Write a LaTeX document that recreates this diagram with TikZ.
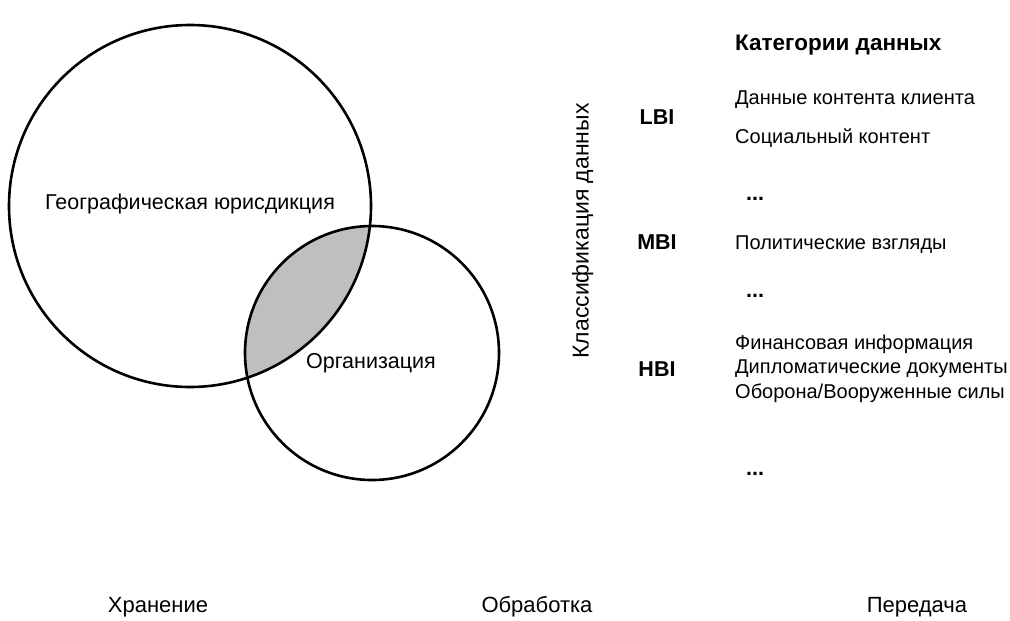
\documentclass[tikz,border=0pt]{standalone}
\usepackage{fontspec}
\setmainfont{Liberation Sans}
\usetikzlibrary{positioning}

\begin{document}
\begin{tikzpicture}[x=1pt, y=-1pt]
    \tikzset{lbl/.style= {font=\fontsize{21.5}{25}\selectfont
    , inner sep=0pt
    , text height=15.5pt
    , text depth=4.5pt
      }
    , level/.style= {lbl
    , font=\fontsize{21.5}{25}\selectfont\bfseries
      }
    , item/.style= {lbl, anchor=west
    , font=\fontsize{20}{24}\selectfont
      }
    , axis/.style= {lbl
    , font=\fontsize{22}{26}\selectfont
      }
    , ring/.style= {draw, line width=2.6pt}
    }
\useasboundingbox (0,0) rectangle (1010,621);

\coordinate (geo) at (190,206);
\coordinate (org) at (372,353);
% overlap of the two circles
\begin{scope}
 \clip (geo) circle (181pt);
 \fill[gray!50] (org) circle (127pt);
\end{scope}
\draw[ring] (geo) circle (181pt);
\draw[ring] (org) circle (127pt);

\node [lbl] (geolbl) at (190,204) {Географическая юрисдикция};
\node [lbl] (orglbl) at (371,363) {Организация};

\node [level, anchor=west, font=\fontsize{22.5}{26}\selectfont\bfseries] (title) at (735,45) {Категории данных};
\node [axis, rotate=90, font=\fontsize{23}{27}\selectfont] (classif) at (583,231) {Классификация данных};

\node [level] (lbi) at (657,119) {LBI};
\node [level] (mbi) at (657,244) {MBI};
\node [level] (hbi) at (657,371) {HBI};

\node [item] (cust) at (735,99) {Данные контента клиента};
\node [item] (social) at (735,138) {Социальный контент};
\node [level, anchor=west] (dots1) at (746,195) {...};
\node [item] (polit) at (735,244) {Политические взгляды};
\node [level, anchor=west] (dots2) at (746,292) {...};
\node [item] (diplo) at (735,368) {Дипломатические документы};
\node [item, above=24.5pt of diplo.west, anchor=west] (fin) {Финансовая информация};
\node [item, below=24.5pt of diplo.west, anchor=west] (defence) {Оборона/Вооруженные силы};
\node [level, anchor=west] (dots3) at (746,470) {...};

\node [axis] (store) at (158,607) {Хранение};
\node [axis] (proc) at (537,607) {Обработка};
\node [axis] (trans) at (917,607) {Передача};
\end{tikzpicture}
\end{document}
